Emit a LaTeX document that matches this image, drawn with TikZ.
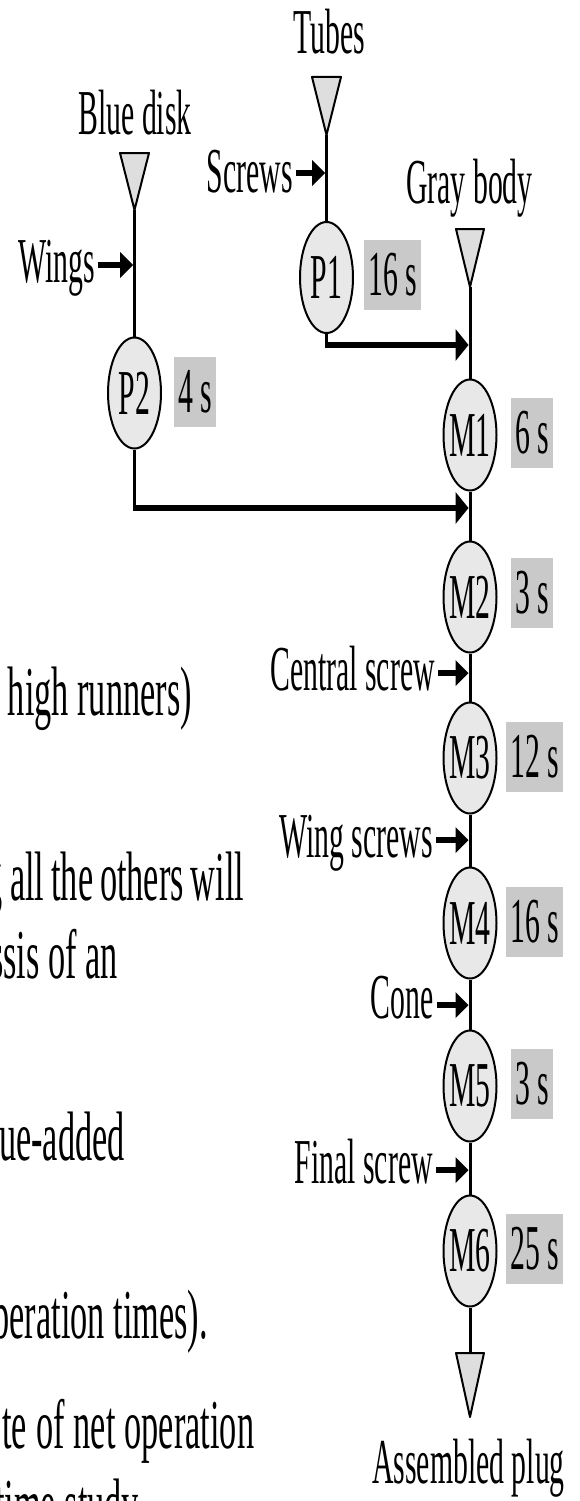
\documentclass[tikz,border=0pt]{standalone}
\usepackage{fontspec}
\usetikzlibrary{shapes.geometric,arrows.meta}
% condensed serif faces for the flow chart and the running text
\newfontfamily\diagfam[FakeStretch=0.465]{Liberation Serif}
\newfontfamily\bodyfam[FakeStretch=0.49]{Liberation Serif}
\newcommand\diagtext{\diagfam\fontsize{64}{70}\selectfont}
\newcommand\bodytext{\bodyfam\fontsize{70}{78}\selectfont}

\begin{document}
\begin{tikzpicture}[x=1pt,y=-1pt,
  lbl/.style={font=\diagtext, inner sep=0pt},
  body/.style={font=\bodytext, inner sep=0pt},
  station/.style={ellipse, draw, line width=2pt, fill=black!9,
    minimum width=53pt, minimum height=111pt, inner sep=0pt},
  timebox/.style={fill=black!21, font=\diagtext, minimum height=70pt,
    inner xsep=4pt, inner ysep=0pt, anchor=west},
  stock/.style={draw, line width=2pt, fill=black!13, line join=round},
  link/.style={line width=3pt},
  feed/.style={line width=5.5pt, shorten <=3pt,
    -{Triangle[length=13pt,width=26pt,line width=0pt]}},
  merge/.style={line width=6.5pt,
    -{Triangle[length=13pt,width=32pt,line width=0pt]}},
  every label/.style={font=\diagtext, inner sep=0pt}]

\clip (0,0) rectangle (579,1501);

% ---- stock symbols (inverted triangles) ----
\draw[stock] (120,153) -- (149,153) -- (134.5,210) -- cycle;
\coordinate (disk) at (134.5,210);
\draw[stock] (312,77) -- (341,77) -- (326.5,135) -- cycle;
\coordinate (tubes) at (326.5,135);
\draw[stock] (456,229) -- (484,229) -- (470,287) -- cycle;
\coordinate (gray) at (470,287);
\draw[stock] (456,1353) -- (484,1353) -- (470,1417) -- cycle;
\coordinate (plug) at (470,1353);

% ---- stock labels ----
\node[lbl, anchor=base] (ltubes) at (329,54) {Tubes};
\node[lbl, anchor=base] (ldisk) at (135,135) {Blue disk};
\node[lbl, anchor=base] (lgray) at (469.5,203) {Gray body};
\node[lbl, anchor=base] (lplug) at (468.5,1483) {Assembled plug};

% ---- operations ----
\node[station, label=center:P1] (p1) at (326.5,277.5) {};
\node[station, label=center:P2] (p2) at (134.5,393) {};
\node[station, label=center:M1] (m1) at (470,435) {};
\node[station, label=center:M2] (m2) at (470,597) {};
\node[station, label=center:M3] (m3) at (470,758) {};
\node[station, label=center:M4] (m4) at (470,923) {};
\node[station, label=center:M5] (m5) at (470,1086) {};
\node[station, label=center:M6] (m6) at (470,1251) {};

% ---- operation times ----
\node[timebox] (tp1) at (364,274.5) {16 s};
\node[timebox] (tp2) at (174,392) {4 s};
\node[timebox] (tm1) at (511,433) {6 s};
\node[timebox] (tm2) at (511,593) {3 s};
\node[timebox] (tm3) at (506,757) {12 s};
\node[timebox] (tm4) at (506,922) {16 s};
\node[timebox] (tm5) at (511,1084) {3 s};
\node[timebox] (tm6) at (506,1249) {25 s};

% ---- material flow ----
\draw[link] (tubes) -- (p1.north);
\draw[link] (disk) -- (p2.north);
\draw[link] (gray) -- (m1.north);
\draw[link] (m1.south) -- (m2.north);
\draw[link] (m2.south) -- (m3.north);
\draw[link] (m3.south) -- (m4.north);
\draw[link] (m4.south) -- (m5.north);
\draw[link] (m5.south) -- (m6.north);
\draw[link] (m6.south) -- (plug);

% sub-assemblies joining the main line
\coordinate (p1bend) at (326.5,345);
\coordinate (m1in) at (468.5,345);
\draw[link] (p1.south) -- ([yshift=-3.25pt]p1bend);
\draw[merge] ([xshift=-1.5pt]p1bend) -- (m1in);

\coordinate (p2bend) at (134.5,508);
\coordinate (m2in) at (468.5,508);
\draw[link] (p2.south) -- ([yshift=-3.25pt]p2bend);
\draw[merge] ([xshift=-1.5pt]p2bend) -- (m2in);

% ---- purchased parts fed in ----
\node[lbl, anchor=base east] (screws) at (293,192) {Screws};
\node[lbl, anchor=base east] (wings) at (95,282) {Wings};
\node[lbl, anchor=base east] (central) at (435,690) {Central screw};
\node[lbl, anchor=base east] (wingscr) at (433,857) {Wing screws};
\node[lbl, anchor=base east] (cone) at (434,1018) {Cone};
\node[lbl, anchor=base east] (final) at (433,1183) {Final screw};

\coordinate (fscrews) at (325,173);
\coordinate (fwings) at (133,265);
\coordinate (fcentral) at (468.5,673);
\coordinate (fwingscr) at (468.5,840);
\coordinate (fcone) at (468.5,1005);
\coordinate (ffinal) at (468.5,1170);
\draw[feed] (screws.east |- fscrews) -- (fscrews);
\draw[feed] (wings.east |- fwings) -- (fwings);
\draw[feed] (central.east |- fcentral) -- (fcentral);
\draw[feed] (wingscr.east |- fwingscr) -- (fwingscr);
\draw[feed] (cone.east |- fcone) -- (fcone);
\draw[feed] (final.east |- ffinal) -- (ffinal);

% ---- running text beside the chart ----
\node[body, anchor=base east] (t1) at (192,715) {high runners)};
\node[body, anchor=base east] (t2a) at (3,900) {g};
\node[body, anchor=base west] (t2) at (10,900) {\makebox[234pt][s]{all the others will}};
\node[body, anchor=base east] (t3) at (118,978) {ssis of an};
\node[body, anchor=base east] (t4) at (125,1160) {ue-added};
\node[body, anchor=base east] (t5) at (208,1338) {peration times).};
\node[body, anchor=base west] (t6) at (2,1448) {\makebox[252pt][s]{te of net operation}};
\node[body, anchor=base west] (t7) at (-5,1527) {time study};
\end{tikzpicture}
\end{document}
